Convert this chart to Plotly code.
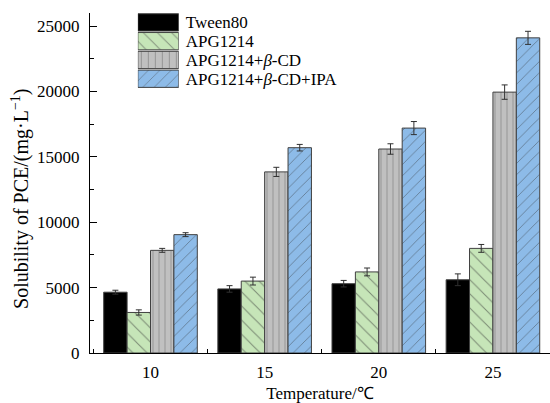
import plotly.graph_objects as go

categories = ["10", "15", "20", "25"]
series_names = ["Tween80", "APG1214", "APG1214+<i>β</i>-CD", "APG1214+<i>β</i>-CD+IPA"]
tween80 = [4650, 4900, 5300, 5600]
tween80_err = [150, 250, 250, 450]
apg = [3100, 5500, 6200, 8000]
apg_err = [200, 300, 300, 300]
apg_cd = [7850, 13850, 15600, 19950]
apg_cd_err = [150, 350, 400, 550]
apg_cd_ipa = [9050, 15700, 17200, 24100]
apg_cd_ipa_err = [150, 250, 500, 500]

font = "Liberation Serif, Times New Roman, serif"
colors = ["#000000", "#c6e5b8", "#c0c0c0", "#8dbbe8"]
shapes = ["", "\\", "|", "/"]
psizes = [8, 10, 6, 8]

values = [tween80, apg, apg_cd, apg_cd_ipa]
errors = [tween80_err, apg_err, apg_cd_err, apg_cd_ipa_err]

fig = go.Figure()
for name, vals, errs, color, shape, ps in zip(series_names, values, errors, colors, shapes, psizes):
    fig.add_trace(go.Bar(
        x=categories, y=vals, name=name, showlegend=False,
        marker=dict(color=color, line=dict(color="#404040", width=1),
                    pattern=dict(shape=shape, fgcolor="#303030", size=ps, solidity=0.1)),
        error_y=dict(type="data", array=errs, color="#303030", thickness=1, width=3),
    ))

# legend drawn as a small horizontal bar chart on an auxiliary axis
fig.add_trace(go.Bar(
    x=[1, 1, 1, 1], y=series_names, orientation="h", width=0.92,
    xaxis="x2", yaxis="y2", showlegend=False, hoverinfo="skip",
    marker=dict(color=colors, line=dict(color="#404040", width=1),
                pattern=dict(shape=shapes, fgcolor="#303030", size=[8, 10, 7, 8], solidity=0.1)),
))

fig.update_layout(
    width=550, height=403,
    margin=dict(l=90, r=0, t=13, b=50),
    paper_bgcolor="white", plot_bgcolor="white",
    barmode="group", bargap=0.18, bargroupgap=0,
    font=dict(family=font, size=17, color="#000000"),
    showlegend=False,
    xaxis=dict(
        range=[-0.53, 3.5], showline=True, linecolor="#000000", linewidth=1,
        ticks="inside", tickson="boundaries", ticklen=4, tickcolor="#000000",
        title=dict(text="Temperature/℃", standoff=9, font=dict(size=17, family=font)),
        tickfont=dict(size=17, family=font), showgrid=False, ticklabelstandoff=4,
    ),
    yaxis=dict(
        range=[0, 26000], showline=True, linecolor="#000000", linewidth=1,
        ticks="inside", ticklen=7, tickcolor="#000000", tickmode="linear", tick0=0, dtick=5000,
        tickformat="d",
        minor=dict(ticks="inside", ticklen=4, dtick=2500, tickcolor="#000000"),
        tickfont=dict(size=17, family=font), showgrid=False, zeroline=False, ticklabelstandoff=6,
    ),
    xaxis2=dict(domain=[0.104, 0.193], anchor="y2", range=[0, 1], visible=False, fixedrange=True),
    yaxis2=dict(domain=[0.779, 1.0], anchor="x2", side="right", type="category",
                categoryorder="array", categoryarray=series_names[::-1],
                tickmode="array", tickvals=series_names, ticktext=series_names,
                range=[-0.5, 3.5], showline=False, showgrid=False, zeroline=False,
                ticks="", ticklabelstandoff=6, tickfont=dict(size=17, family=font)),
    annotations=[dict(
        text="Solubility of PCE/(mg·L<sup>−1</sup>)", textangle=-90,
        xref="paper", yref="paper", x=-0.150, y=0.453, xanchor="center", yanchor="middle",
        showarrow=False, font=dict(size=20, family=font),
    )],
)

fig.write_html("out.html")
